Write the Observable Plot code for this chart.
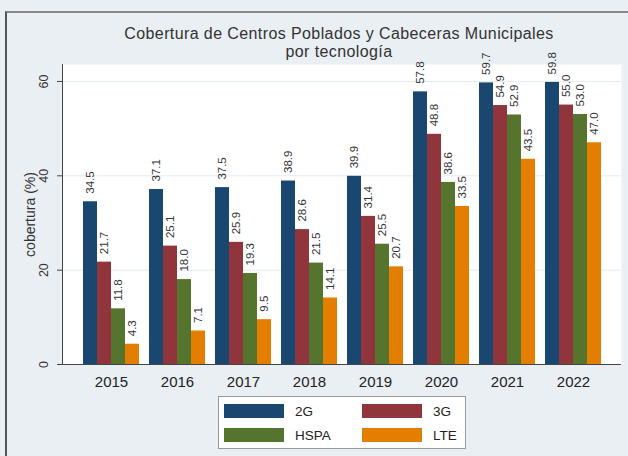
<!DOCTYPE html>
<html>
<head>
<meta charset="utf-8">
<script src="https://cdn.jsdelivr.net/npm/d3@7"></script>
<script src="https://cdn.jsdelivr.net/npm/@observablehq/plot@0.6"></script>
<style>
  html, body { margin: 0; padding: 0; }
  body { width: 628px; height: 456px; overflow: hidden; background: #e9eff2; font-family: "Liberation Sans", Arial, sans-serif; }
  #wrap { position: relative; width: 628px; height: 456px; }
  #border { position: absolute; left: 5px; top: 11px; right: 0; bottom: 0; border-left: 2px solid #555; border-top: 2px solid #888; }
  .layer { position: absolute; left: 0; top: 0; }
  .tline { position: absolute; left: 39px; width: 600px; text-align: center; font-size: 16px; letter-spacing: 0.4px; line-height: 18px; height: 18px; color: #333; white-space: nowrap; }
  #t1 { top: 25px; }
  #t2 { top: 43px; }
  #legend { position: absolute; left: 218px; top: 396px; width: 248px; height: 53px; background: #fff; border: 1px solid #999; box-sizing: border-box; display: grid; grid-template-columns: 138px 1fr; grid-template-rows: 14px 14px; padding: 7px 0 0 5px; row-gap: 10px; }
  .item { display: flex; align-items: center; font-size: 13.5px; color: #222; }
  .sw { width: 60px; height: 14px; margin-right: 11px; flex: none; }
</style>
</head>
<body>
<div id="wrap">
  <div id="border"></div>
  <div id="bg" class="layer"></div>
  <div id="bars" class="layer"></div>
  <div id="t1" class="tline"></div>
  <div id="t2" class="tline"></div>
  <div id="legend"></div>
</div>
<script>
const titleLines = ["Cobertura de Centros Poblados y Cabeceras Municipales", "por tecnología"];
const years = ["2015", "2016", "2017", "2018", "2019", "2020", "2021", "2022"];
const techs = ["2G", "3G", "HSPA", "LTE"];
const colors = ["#1a476f", "#90353b", "#55752f", "#e37e00"];
const v2G   = [34.5, 37.1, 37.5, 38.9, 39.9, 57.8, 59.7, 59.8];
const v3G   = [21.7, 25.1, 25.9, 28.6, 31.4, 48.8, 54.9, 55.0];
const vHSPA = [11.8, 18.0, 19.3, 21.5, 25.5, 38.6, 52.9, 53.0];
const vLTE  = [4.3, 7.1, 9.5, 14.1, 20.7, 33.5, 43.5, 47.0];
const yTicks = [0, 20, 40, 60];
const yLabel = "cobertura (%)";

document.getElementById("t1").textContent = titleLines[0];
document.getElementById("t2").textContent = titleLines[1];

const series = [v2G, v3G, vHSPA, vLTE];
const data = [];
years.forEach((yr, i) => techs.forEach((t, j) => data.push({year: yr, tech: t, value: series[j][i]})));

const W = 628, H = 456;
const margins = {marginLeft: 62, marginRight: 7, marginTop: 64, marginBottom: 92};
const yDomain = [0, 63.6];

const bg = Plot.plot({
  width: W, height: H, ...margins,
  style: {background: "transparent", fontFamily: "Liberation Sans, Arial, sans-serif"},
  y: {domain: yDomain, axis: null},
  marks: [
    Plot.frame({fill: "white", stroke: null}),
    Plot.gridY(yTicks.slice(1), {stroke: "#e3ebee", strokeOpacity: 1}),
    Plot.axisY({ticks: yTicks, tickSize: 5, tickFormat: () => "", label: null, stroke: "#444"}),
    Plot.text(yTicks, {y: d => d, text: d => String(d), frameAnchor: "left", textAnchor: "middle", dx: -19, rotate: -90, fontSize: 12.5, fill: "#333"}),
    Plot.text([yLabel], {text: d => d, frameAnchor: "left", textAnchor: "middle", dx: -32, rotate: -90, fontSize: 14, fill: "#333"}),
    Plot.frame({anchor: "left", stroke: "#444"}),
    Plot.ruleY([0], {stroke: "#444"})
  ]
});
document.getElementById("bg").appendChild(bg);

const bars = Plot.plot({
  width: W, height: H, ...margins,
  style: {background: "transparent", fontFamily: "Liberation Sans, Arial, sans-serif"},
  fx: {domain: years, paddingInner: 0.154, paddingOuter: 0.3, axis: "bottom", tickSize: 0, tickPadding: 12, label: null},
  x: {domain: techs, padding: 0, axis: null},
  y: {domain: yDomain, axis: null},
  color: {domain: techs, range: colors},
  marks: [
    Plot.barY(data, {fx: "year", x: "tech", y: "value", fill: "tech"}),
    Plot.text(data, {fx: "year", x: "tech", y: "value", text: d => d.value.toFixed(1), rotate: -90, textAnchor: "start", dy: -8, fontSize: 11.5, fill: "#333"})
  ]
});
bars.querySelectorAll("g[aria-label^='fx-axis'] text").forEach(t => { t.style.fontSize = "15px"; t.style.fill = "#222"; });
document.getElementById("bars").appendChild(bars);

const legend = document.getElementById("legend");
techs.forEach((t, j) => {
  const it = document.createElement("div");
  it.className = "item";
  const sw = document.createElement("div");
  sw.className = "sw";
  sw.style.background = colors[j];
  const lb = document.createElement("span");
  lb.textContent = t;
  it.appendChild(sw); it.appendChild(lb);
  legend.appendChild(it);
});
</script>
</body>
</html>
